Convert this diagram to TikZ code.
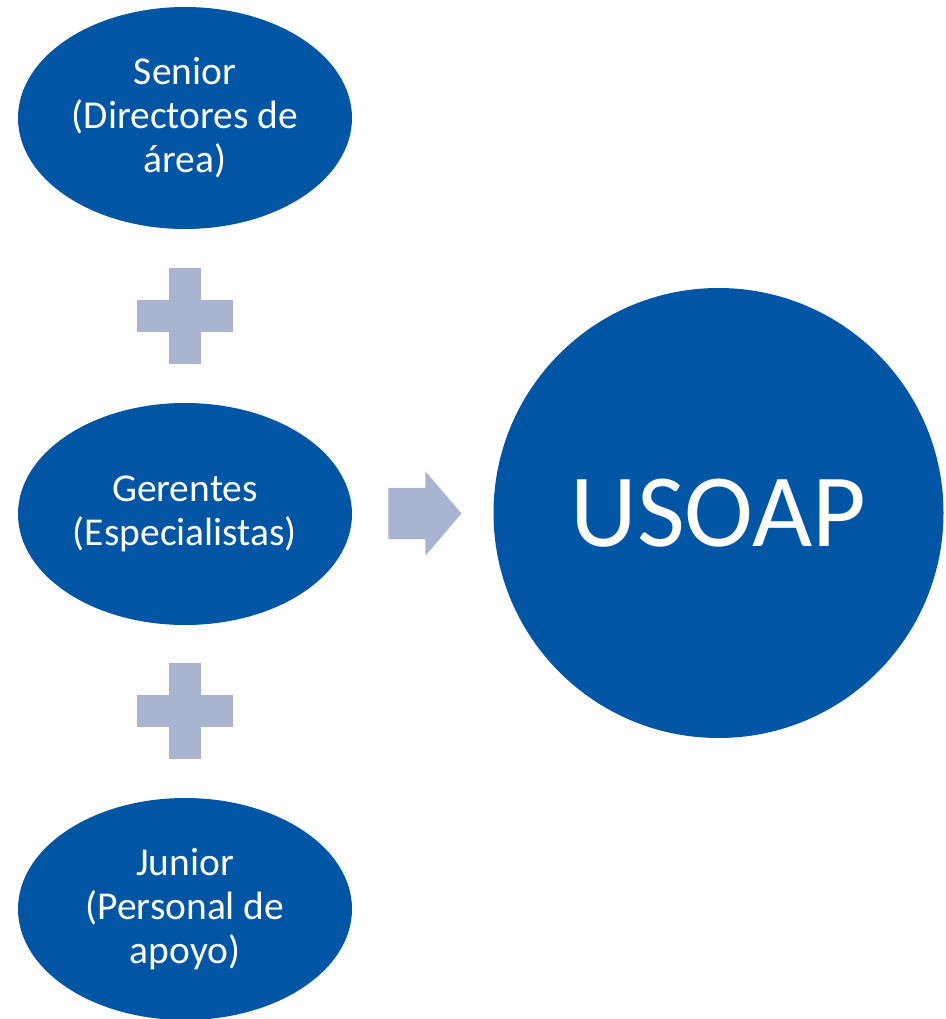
\documentclass[tikz,border=0pt]{standalone}
\usepackage{fontspec}
\setmainfont{Carlito}
\usepackage{tikz}
\usetikzlibrary{shapes,shapes.geometric,shapes.arrows,positioning}
\definecolor{nivelblue}{HTML}{0055A4}
\definecolor{signgray}{HTML}{A9B4D1}

\begin{document}
\begin{tikzpicture}[
		x=1pt,y=-1pt,
		nivel/.style={
		  ellipse,
		  fill=nivelblue,
		  text=white,
		  minimum width=334pt,
		  minimum height=222pt,
		  inner sep=0pt,
		  align=center,
		  font=\fontsize{39.5}{44}\selectfont
		},
		meta/.style={
		  circle,
		  fill=nivelblue,
		  text=white,
		  minimum size=450pt,
		  inner sep=0pt,
		  font=\fontsize{104}{120}\selectfont
		},
		barra/.style={
		  fill=signgray,
		  inner sep=0pt
		},
		flecha/.style={
		  single arrow,
		  fill=signgray,
		  inner xsep=0pt,
		  inner ysep=25.5pt,
		  minimum height=73pt,
		  single arrow head extend=16.5pt,
		  single arrow tip angle=99,
		  single arrow head indent=0pt
		},
		plussign/.pic={
		  \node[barra,minimum width=96pt,minimum height=32pt] {};
		  \node[barra,minimum width=32pt,minimum height=96pt] {};
		}
		]
		\useasboundingbox (0,0) rectangle (945,1019);

		\node[nivel] at (185,118)
		  (senior) {Senior\\(Directores de\\área)};
		\node[nivel] at (185,514)
		  (gerentes) {Gerentes\\(Especialistas)};
		\node[nivel] at (185,909)
		  (junior) {Junior\\(Personal de\\apoyo)};
		\node[meta] at (718.5,513)
		  (usoap) {USOAP};

		\pic at (185,315.5) {plussign};
		\pic at (185,711) {plussign};

		\node[flecha] at (414,513.5) (paso) {};
	\end{tikzpicture}
\end{document}
